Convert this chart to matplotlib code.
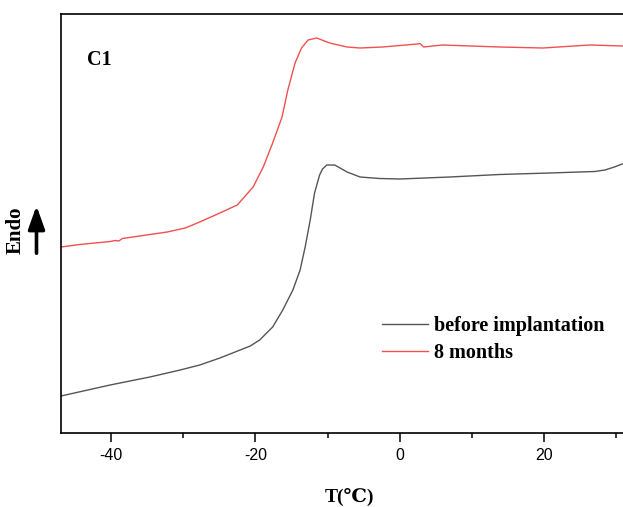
import numpy as np
import matplotlib
matplotlib.use("Agg")
import matplotlib.pyplot as plt
from matplotlib.ticker import MultipleLocator

# DSC curves (heat flow in arbitrary units)
t_before = [-46.9, -40.1, -34.6, -30.4, -27.7, -24.9, -23.5, -22.1, -20.7, -19.4,
            -17.6, -16.2, -14.8, -13.8, -13.1, -12.4, -11.8, -11.1, -10.7, -10.1,
            -9.0, -7.3, -5.5, -2.8, 0.0, 6.9, 13.8, 20.7, 27.0, 28.4, 29.7, 30.8]
hf_before = [37, 48, 56, 63, 68, 75, 79, 83, 87, 93,
             106, 123, 143, 163, 186, 213, 240, 258, 264, 268,
             268, 261, 256, 254.5, 254, 256, 258.5, 260, 261.5, 263, 266, 269]

t_8m = [-46.9, -44.3, -41.5, -40.1, -39.4, -38.9, -38.4, -36.0, -32.2, -29.7,
        -27.7, -24.9, -22.5, -20.3, -18.9, -17.6, -16.3, -15.5, -14.5, -13.6,
        -12.7, -11.5, -9.7, -7.3, -5.5, -2.4, 2.4, 2.8, 3.3, 5.9,
        13.8, 19.8, 26.3, 30.8]
hf_8m = [186, 188.5, 190.5, 191.5, 192.5, 192, 194.5, 197, 201, 205,
         211, 220, 228, 246, 266, 290, 316, 343, 370, 385,
         393, 395, 390, 386, 385, 386, 389, 389.5, 386, 388,
         386, 385, 388, 387]

labels = ["before implantation", "8 months"]

serif = ["Liberation Serif", "DejaVu Serif"]
plt.rcParams['font.family'] = ["Liberation Sans", "DejaVu Sans"]
plt.rcParams['axes.unicode_minus'] = False

fig = plt.figure(figsize=(6.23, 5.07), dpi=100)
ax = fig.add_axes([61/623, 1-433/507, 1-61/623, (433-14)/507])

ax.plot(t_before, hf_before, color='#555555', lw=1.0, label=labels[0])
ax.plot(t_8m, hf_8m, color='#f05050', lw=1.0, label=labels[1])

ax.set_xlim(-46.9, 30.9)
ax.set_ylim(0, 419)
ax.xaxis.set_major_locator(MultipleLocator(20))
ax.xaxis.set_minor_locator(MultipleLocator(10))
ax.tick_params(axis='x', which='major', direction='out', length=6.5, width=1.1, labelsize=11.5, pad=4)
ax.tick_params(axis='x', which='minor', direction='out', length=3.5, width=1.1)
ax.set_yticks([])
for s in ['left', 'bottom', 'top']:
    ax.spines[s].set_linewidth(1.2)
ax.spines['right'].set_visible(False)

fig.text(87/623, 1-60/507, "C1", family=serif, fontweight='bold', fontsize=14.5,
         va='center', ha='left')

fig.text(16/623, 1-230/507, "Endo", family=serif, fontweight='bold', fontsize=15,
         rotation=90, va='center', ha='center')
fig.patches.append(matplotlib.patches.FancyArrowPatch(
    (36.5/623, 1-256/507), (36.5/623, 1-203/507), transform=fig.transFigure,
    arrowstyle='-|>,head_length=14,head_width=5', lw=2.6, color='black', mutation_scale=1))

fig.text(349/623, 1-497/507, "T(℃)", family=serif, fontweight='bold', fontsize=14,
         va='center', ha='center')

ax.legend(loc='upper left', bbox_to_anchor=(374/623, 1-308/507), bbox_transform=fig.transFigure,
          frameon=False, prop={'family': serif, 'weight': 'bold', 'size': 14.5},
          handlelength=2.3, handletextpad=0.3, labelspacing=0.35, borderaxespad=0)

fig.savefig("out.png", dpi=100)
